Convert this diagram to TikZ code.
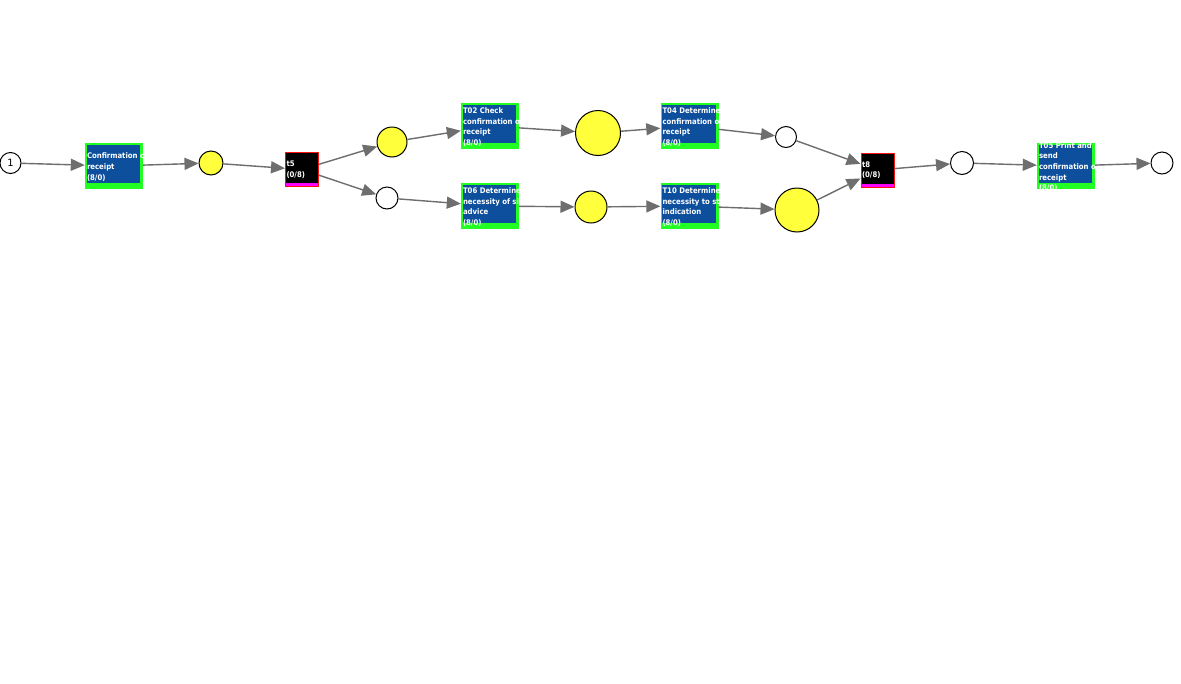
\documentclass[tikz,border=0pt]{standalone}
\usepackage{fontspec}
\setmainfont{DejaVu Sans}
\newfontfamily\lblfont{DejaVu Sans Condensed}
\usetikzlibrary{arrows.meta}

\definecolor{tgreen}{HTML}{22FF22}
\definecolor{tblue}{HTML}{0D4F9C}
\definecolor{tyellow}{HTML}{FFFF3C}
\definecolor{tred}{HTML}{FF1010}
\definecolor{tmag}{HTML}{FF00FF}
\definecolor{agray}{HTML}{6E6E6E}

\tikzset{
  tlabel/.style={shape=rectangle, draw=none, fill=none, text=white,
    inner sep=0pt, outer sep=0pt, minimum width=0pt, minimum height=0pt,
    align=left, font=\lblfont\bfseries\fontsize{7.7}{10.6}\selectfont},
  % visible transition: green frame, blue face, clipped label
  trans/.style={rectangle, draw=none, fill=tgreen, minimum width=58pt,
    minimum height=46pt, inner sep=0pt,
    path picture={
      \fill[tblue] ([xshift=1.5pt,yshift=6pt]path picture bounding box.south west)
        rectangle ([xshift=-3pt,yshift=-2pt]path picture bounding box.north east);
      \node[tlabel, anchor=west] at ([xshift=2pt,yshift=-1pt]path picture bounding box.west) {#1};
    }},
  % silent transition: black face, red frame, magenta strip
  silent/.style={rectangle, draw=tred, line width=1pt, fill=black,
    minimum width=33pt, minimum height=34pt, inner sep=0pt,
    path picture={
      \fill[tmag] (path picture bounding box.south west)
        rectangle ([yshift=3.5pt]path picture bounding box.south east);
      \node[tlabel, anchor=west] at ([xshift=1pt]path picture bounding box.west) {#1};
    }},
  place/.style={circle, draw=black, line width=1pt, fill=white,
    inner sep=0pt, minimum size=#1},
  marked/.style={place=#1, fill=tyellow},
  arc/.style={draw=agray, line width=1.4pt, -{Triangle[length=14pt,width=12pt]}},
}

\begin{document}
\begin{tikzpicture}[x=1pt, y=-1pt]
  \useasboundingbox[fill=white] (0,0) rectangle (1181,683);

  % places
  \node[place=21pt, font=\fontsize{10}{11}\selectfont] (p1) at (10.5,163) {1};
  \node[marked=24pt] (p2) at (211,163) {};
  \node[marked=30pt] (p3) at (392,142) {};
  \node[place=22pt] (p4) at (387,198) {};
  \node[marked=45pt] (p5) at (598,133) {};
  \node[marked=32pt] (p6) at (591,207) {};
  \node[place=21pt] (p7) at (786,137) {};
  \node[marked=44pt] (p8) at (797,210) {};
  \node[place=23pt] (p9) at (962,163) {};
  \node[place=22pt] (p10) at (1162,163) {};

  % transitions
  \node[trans={Confirmation of\\receipt\\(8/0)}] (tconf) at (114,166) {};
  \node[silent={t5\\(0/8)}] (t5) at (302,169.5) {};
  \node[trans={T02 Check\\confirmation of\\receipt\\(8/0)}] (t02) at (490,126) {};
  \node[trans={T06 Determine\\necessity of sick\\advice\\(8/0)}] (t06) at (490,206) {};
  \node[trans={T04 Determine\\confirmation of\\receipt\\(8/0)}] (t04) at (689.5,126) {};
  \node[trans={T10 Determine\\necessity to stop\\indication\\(8/0)}] (t10) at (689.5,206) {};
  \node[silent={t8\\(0/8)}] (t8) at (877.5,170) {};
  \node[trans={T05 Print and\\send\\confirmation of\\receipt\\(8/0)}] (t05) at (1066,166) {};

  % arcs
  \draw[arc] (p1) -- (tconf);
  \draw[arc] (tconf) -- (p2);
  \draw[arc] (p2) -- (t5);
  \draw[arc] (t5) -- (p3);
  \draw[arc] (t5) -- (p4);
  \draw[arc] (p3) -- (t02);
  \draw[arc] (p4) -- (t06);
  \draw[arc] (t02) -- (p5);
  \draw[arc] (t06) -- (p6);
  \draw[arc] (p5) -- (t04);
  \draw[arc] (p6) -- (t10);
  \draw[arc] (t04) -- (p7);
  \draw[arc] (t10) -- (p8);
  \draw[arc] (p7) -- (t8);
  \draw[arc] (p8) -- (t8);
  \draw[arc] (t8) -- (p9);
  \draw[arc] (p9) -- (t05);
  \draw[arc] (t05) -- (p10);
\end{tikzpicture}
\end{document}
